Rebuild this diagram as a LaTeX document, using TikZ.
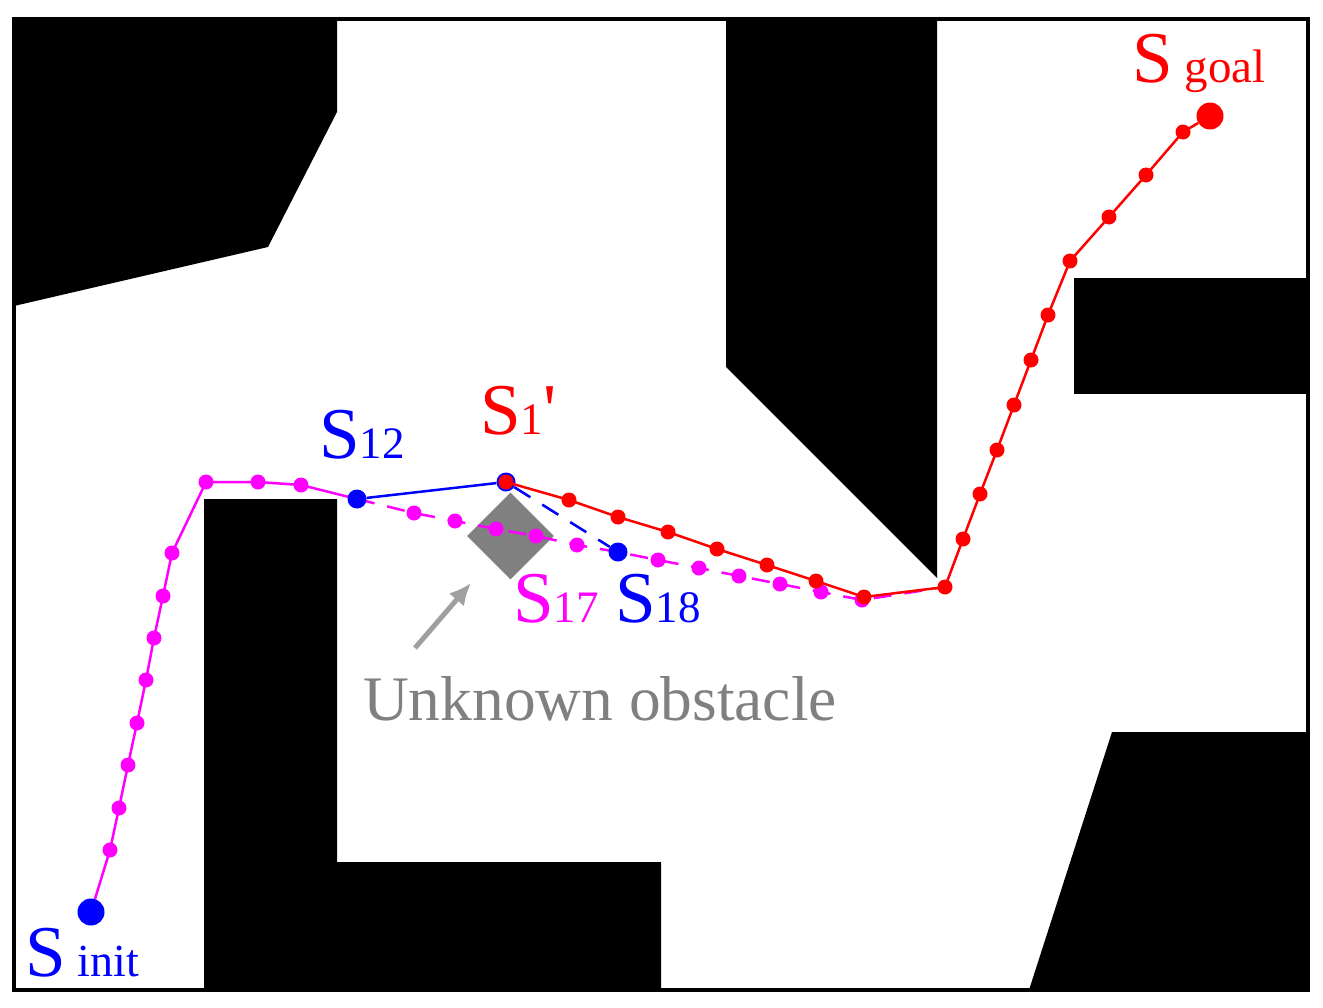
\documentclass[tikz,border=0pt]{standalone}
\usepackage{fontspec}
\setmainfont{Liberation Serif}
\newfontfamily\primefont{Liberation Serif}
\usetikzlibrary{arrows.meta,shapes.geometric}
\newcommand{\statelabel}[2][45]{{\fontsize{73}{73}\selectfont S}{\fontsize{#1}{#1}\selectfont #2}}
\definecolor{unknown-gray}{HTML}{808080}
\definecolor{arrow-gray}{HTML}{A0A0A0}
\definecolor{path-magenta}{HTML}{FF00FF}
\tikzset{
    obstacle-block/.style = {fill=black},
    map-frame/.style = {draw=black, line width=3.5pt},
    unknown-block/.style = {diamond, fill=unknown-gray, inner sep=0pt, minimum width=87pt, minimum height=87pt},
    path-dot/.style = {circle, inner sep=0pt, minimum size=15pt},
    end-dot/.style = {circle, fill=#1, inner sep=0pt, minimum size=27pt},
    state-dot/.style = {circle, fill=blue, inner sep=0pt, minimum size=19pt},
    state-label/.style = {anchor=base west, inner sep=0pt},
    path-line/.style = {draw=#1, line width=2.5pt},
    dash-line/.style = {draw=#1, line width=2.5pt, dash pattern=on 18pt off 13pt},
}
\begin{document}
\begin{tikzpicture}[x=1pt, y=-1pt]
\useasboundingbox (0,0) rectangle (1323,1007);
\fill[obstacle-block] (14,19) -- (337,19) -- (337,112) -- (268,247) -- (14,306) -- cycle;
\fill[obstacle-block] (726,19) -- (937,19) -- (937,578) -- (726,367) -- cycle;
\fill[obstacle-block] (1074,278) -- (1308,278) -- (1308,394) -- (1074,394) -- cycle;
\fill[obstacle-block] (1112,732) -- (1308,732) -- (1308,990) -- (1029,990) -- cycle;
\fill[obstacle-block] (204,499) -- (337,499) -- (337,862) -- (661,862) -- (661,990) -- (204,990) -- cycle;
\draw[map-frame] (14,19) rectangle (1308,990);

\node[unknown-block] (unknown) at (510.5,536) {};

\node[end-dot=blue] (init) at (91,912) {};
\foreach \px/\py [count=\i] in {110/850, 119/808, 128/765, 137/723, 146/680, 154/638, 163/596, 172/553,
    206/482, 258/482, 301/485, 357/499, 414/513, 455/521, 496/529, 536/536, 577/545, 618/552,
    658/560, 699/568, 739/576, 780/584, 821/592, 862/600}
    \node[path-dot, fill=path-magenta] (m\i) at (\px,\py) {};
\coordinate (corner) at (945,587);
\draw[path-line=path-magenta] (init) -- (m1.center) foreach \i in {2,...,12} {-- (m\i.center)};
\draw[dash-line=path-magenta] (m12.center) foreach \i in {13,...,24} {-- (m\i.center)} -- (corner);

\node[state-dot] (s12) at (357,499) {};
\node[state-dot] (s18) at (618,552) {};
\node[state-dot] (s1p) at (506,482) {};
\draw[path-line=blue] (s12) -- (s1p);
\draw[dash-line=blue, dash pattern=on 19pt off 14pt] (s1p) -- (s18);

\node[end-dot=red] (goal) at (1210,116) {};
\foreach \px/\py [count=\i] in {506/482, 569/500, 618/517, 668/532, 717/549, 767/565, 816/581, 864/597,
    945/587, 963/539, 980/494, 997/450, 1014/405, 1031/360, 1048/315, 1070/261, 1109/217, 1146/175, 1183/132}
    \node[path-dot, fill=red] (r\i) at (\px,\py) {};
\draw[path-line=red] (r1.center) foreach \i in {2,...,19} {-- (r\i.center)} -- (goal);

\node[state-label, text=blue] (init-label) at (25,976) {\statelabel[46]{\hspace{12pt}init}};
\node[state-label, text=red] (goal-label) at (1132,82) {\statelabel[47]{\hspace{12pt}goal}};
\node[state-label, text=blue] (s12-label) at (319,458) {\statelabel{12}};
\node[state-label, text=red] (s1p-label) at (480,434) {\statelabel{1}{\primefont\fontsize{73}{73}\selectfont '}};
\node[state-label, text=path-magenta] (s17-label) at (513,622) {\statelabel{17}};
\node[state-label, text=blue] (s18-label) at (615,622) {\statelabel{18}};

\coordinate (arrow-tail) at (415,648);
\coordinate (arrow-tip) at (471,583);
\draw[-{Latex[length=22pt,width=20pt]}, draw=arrow-gray, fill=arrow-gray, line width=5pt] (arrow-tail) -- (arrow-tip);
\node[state-label, text=unknown-gray, font=\fontsize{63.4}{63.4}\selectfont] (unknown-label) at (363,720) {Unknown obstacle};
\end{tikzpicture}
\end{document}
